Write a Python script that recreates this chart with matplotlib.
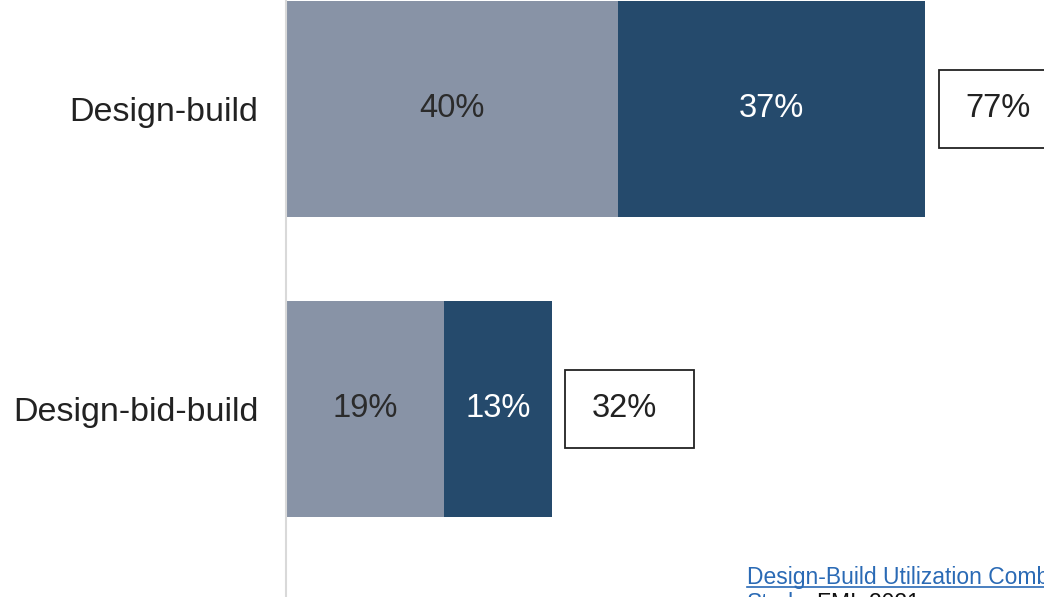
import matplotlib.pyplot as plt
from matplotlib.lines import Line2D

plt.rcParams["font.family"] = ["Liberation Sans", "DejaVu Sans"]

# data
categories = ["Design-bid-build", "Design-build"]
first_share = [19, 40]
second_share = [13, 37]
totals = [32, 77]

light_color = "#8893a6"
dark_color = "#254a6c"

fig = plt.figure(figsize=(10.44, 5.97), dpi=100)
ax = fig.add_axes([0.274, 0.0, 0.726, 1.0])

y = list(range(len(categories)))
bar_h = 0.72

ax.barh(y, first_share, height=bar_h, color=light_color)
ax.barh(y, second_share, height=bar_h, left=first_share, color=dark_color)

for i in y:
    ax.text(first_share[i] / 2, i, f"{first_share[i]}%", ha="center", va="center",
            fontsize=23.5, color="#2b2b2b")
    ax.text(first_share[i] + second_share[i] / 2, i, f"{second_share[i]}%",
            ha="center", va="center", fontsize=23.5, color="white")

# total boxes
gap = 1.6
box_w = 15.6
box_h = 0.26
ax.barh(y, [box_w] * len(y), height=box_h, left=[t + gap for t in totals],
        color="white", edgecolor="#222222", linewidth=1.3)
for i in y:
    ax.text(totals[i] + gap + 7.2, i, f"{totals[i]}%", ha="center",
            va="center", fontsize=23.5, color="#222222")

ax.set_xlim(0, 91.3)
ax.set_ylim(-0.627, 1.363)
ax.set_yticks(y)
ax.set_yticklabels(categories, fontsize=24.5, color="#222222")
ax.tick_params(axis="y", length=0, pad=20)
ax.set_xticks([])
for side in ["top", "right", "bottom"]:
    ax.spines[side].set_visible(False)
ax.spines["left"].set_color("#d9d9d9")
ax.spines["left"].set_linewidth(1.5)

# source note (cut off at the right edge like the original)
src = fig.text(0.7155, 0.022, "Design-Build Utilization Combined Research",
               fontsize=16.5, color="#2a6ab5", ha="left", va="baseline")
fig.text(0.7155, -0.022, "Study,", fontsize=16.5, color="#2a6ab5", ha="left",
         va="baseline")
fig.text(0.783, -0.022, "FMI, 2021", fontsize=16.5, color="#111111", ha="left",
         va="baseline")
fig.canvas.draw()
bb = src.get_window_extent().transformed(fig.transFigure.inverted())
fig.add_artist(Line2D([bb.x0, bb.x1], [0.0175, 0.0175], color="#2a6ab5",
                      linewidth=1.2, transform=fig.transFigure))

plt.savefig("out.png", dpi=100)
plt.close()
